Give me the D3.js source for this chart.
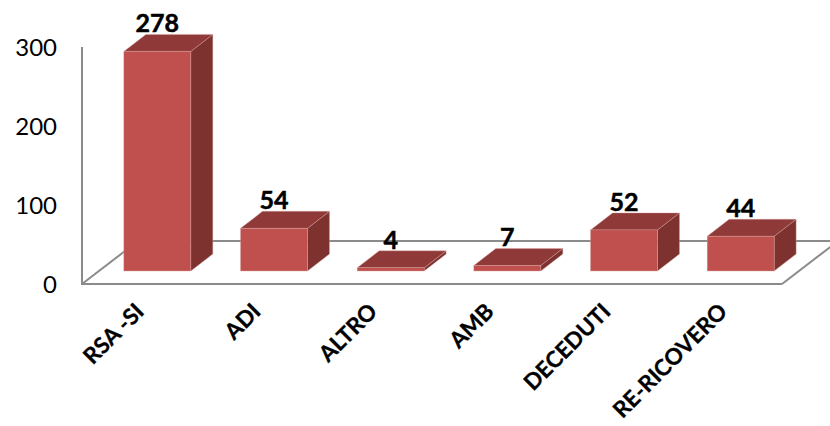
<!DOCTYPE html>
<html>
<head>
<meta charset="utf-8">
<script src="https://cdn.jsdelivr.net/npm/d3@7/dist/d3.min.js"></script>
<style>
html,body{margin:0;padding:0;background:#fff;overflow:hidden}
svg{display:block}
text{font-family:Lato,"Open Sans",sans-serif;fill:#000}
</style>
</head>
<body>
<svg id="chart" width="830" height="426"></svg>
<script>
const categories = ["RSA -SI","ADI","ALTRO","AMB","DECEDUTI","RE-RICOVERO"];
const values = [278,54,4,7,52,44];
const yTicks = [0,100,200,300];

const svg = d3.select("#chart");

// Oblique projection of the 3D box: floor depth and per-bar offsets
const floorDepth = {dx:56, dy:-43};
const barInset = {dx:17, dy:-13};
const barDepth = {dx:22, dy:-17};

const x = d3.scaleBand().domain(categories).range([82,782]).paddingInner(0.426).paddingOuter(0.213);
const y = d3.scaleLinear().domain([0,300]).range([284,47]);

const wall = "#8b8b8b";
const line = (x1,y1,x2,y2) => svg.append("line")
  .attr("x1",x1).attr("y1",y1).attr("x2",x2).attr("y2",y2)
  .attr("stroke",wall).attr("stroke-width",2);

// Floor outline and back wall edge, drawn under the bars
const x0 = x.range()[0], x1 = x.range()[1], y0 = y(0);
line(x0,y(300),x0,y0+1);
line(x0-1,y0,x1,y0);
line(x0,y0,x0+floorDepth.dx,y0+floorDepth.dy);
line(x1,y0,x1+floorDepth.dx,y0+floorDepth.dy);
line(x0+floorDepth.dx,y0+floorDepth.dy,x1+floorDepth.dx,y0+floorDepth.dy);

// Value axis labels
const yAxis = d3.axisLeft(y).tickValues(yTicks).tickSize(0).tickPadding(25);
const gy = svg.append("g").attr("transform",`translate(${x0},0)`).call(yAxis);
gy.select(".domain").remove();
gy.selectAll("text").style("font-size","24px").style("font-family","Lato,sans-serif").attr("fill","#000").attr("dy","0.34em");

// Bars as three faces: side, top, front
const bars = svg.append("g").selectAll("g")
  .data(categories.map((c,i)=>({c,v:values[i]})))
  .join("g");

const geom = d => {
  const l = x(d.c)+barInset.dx, r = l+x.bandwidth();
  const b = y(0)+barInset.dy, t = y(d.v)+barInset.dy;
  return {l,r,b,t};
};
const poly = pts => pts.map(p=>p.join(",")).join(" ");
const edge = "#d9a3a1";

bars.append("polygon").attr("fill","#7d3230").attr("stroke",edge).attr("stroke-width",0.4)
  .attr("points",d=>{const g=geom(d);return poly([[g.r,g.t],[g.r+barDepth.dx,g.t+barDepth.dy],[g.r+barDepth.dx,g.b+barDepth.dy],[g.r,g.b]]);});
bars.append("polygon").attr("fill","#8f3a38").attr("stroke",edge).attr("stroke-width",0.4)
  .attr("points",d=>{const g=geom(d);return poly([[g.l,g.t],[g.l+barDepth.dx,g.t+barDepth.dy],[g.r+barDepth.dx,g.t+barDepth.dy],[g.r,g.t]]);});
bars.append("rect").attr("fill","#c0504d").attr("stroke",edge).attr("stroke-width",0.4)
  .attr("x",d=>geom(d).l).attr("y",d=>geom(d).t)
  .attr("width",x.bandwidth()).attr("height",d=>geom(d).b-geom(d).t);

// Value labels above the top face
bars.append("text")
  .attr("text-anchor","middle").style("font-size","25px").style("font-weight",700)
  .style("stroke","#000").style("stroke-width",0.5)
  .attr("x",d=>{const g=geom(d);return (g.l+g.r)/2;})
  .attr("y",d=>geom(d).t+barDepth.dy-2)
  .text(d=>d.v);

// Rotated category labels, anchored at their upper-right end
svg.append("g").selectAll("text").data(categories).join("text")
  .attr("text-anchor","end").style("font-size","22.5px").style("font-weight",700)
  .style("stroke","#000").style("stroke-width",0.3)
  .attr("transform",d=>`translate(${x(d)+x.bandwidth()/2+5},${313}) rotate(-45)`)
  .text(d=>d);
</script>
</body>
</html>
